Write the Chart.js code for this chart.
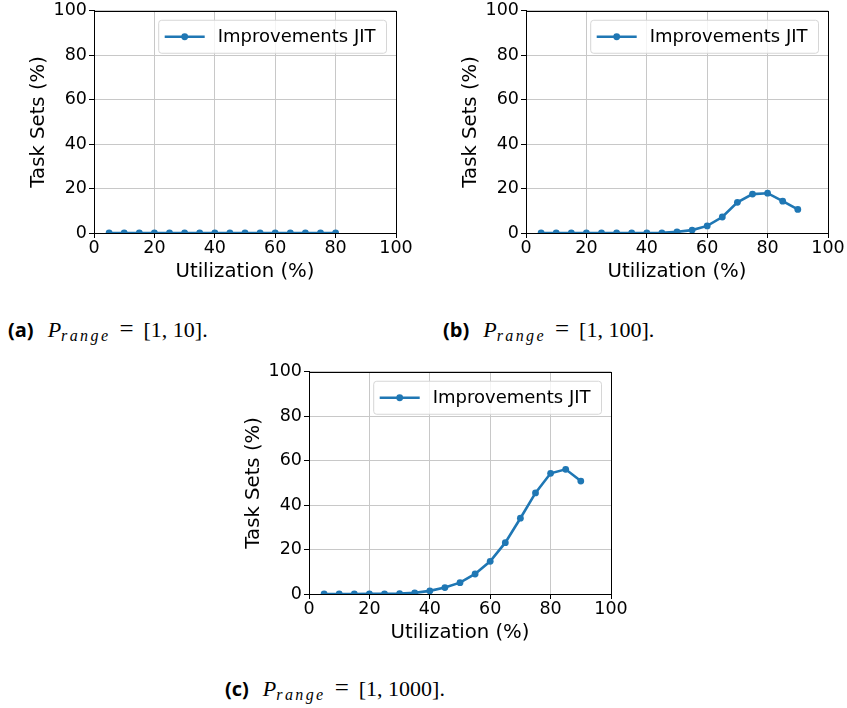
<!DOCTYPE html>
<html>
<head>
<meta charset="utf-8">
<script src="https://cdn.jsdelivr.net/npm/chart.js@4"></script>
<style>
  html, body { margin: 0; padding: 0; background: #fff; width: 847px; height: 708px; overflow: hidden; }
  .wrap { position: absolute; }
  .cap { position: absolute; white-space: nowrap; color: #000; line-height: 1; }
  .cap b { font-family: "Open Sans", sans-serif; font-weight: bold; font-size: 20px; margin-right: 14px; }
  .cap .m { font-family: "Liberation Serif", serif; font-size: 22px; }
  .cap .i { font-style: italic; }
  .cap sub { font-family: "Liberation Serif", serif; font-style: italic; font-size: 16px; letter-spacing: 2.4px; vertical-align: -4px; }
  .cap .eq { display: inline-block; margin: 0 10px 0 9px; font-size: 25px; }
</style>
</head>
<body>
<div class="wrap" style="left:0px;top:0px;width:420px;height:290px;"><canvas id="ca"></canvas></div>
<div class="wrap" style="left:432px;top:0px;width:415px;height:290px;"><canvas id="cb"></canvas></div>
<div class="wrap" style="left:215px;top:361px;width:420px;height:290px;"><canvas id="cc"></canvas></div>

<div class="cap" style="left:8px;top:316px;"><b>(a)</b><span class="m"><span class="i">P</span><sub>range</sub><span class="eq">=</span>[1, 10].</span></div>
<div class="cap" style="left:443px;top:316px;"><b>(b)</b><span class="m"><span class="i">P</span><sub>range</sub><span class="eq">=</span>[1, 100].</span></div>
<div class="cap" style="left:225px;top:675px;"><b>(c)</b><span class="m"><span class="i">P</span><sub>range</sub><span class="eq">=</span>[1, 1000].</span></div>

<script>
// ---- data ----
const seriesLabel = "Improvements JIT";
const utilA = [5, 10, 15, 20, 25, 30, 35, 40, 45, 50, 55, 60, 65, 70, 75, 80];
const valuesA = [0, 0, 0, 0, 0, 0, 0, 0, 0, 0, 0, 0, 0, 0, 0, 0];
const utilB = [5, 10, 15, 20, 25, 30, 35, 40, 45, 50, 55, 60, 65, 70, 75, 80, 85, 90];
const valuesB = [0, 0, 0, 0, 0, 0, 0, 0, 0.1, 0.5, 1.3, 3.2, 7.2, 13.8, 17.5, 17.9, 14.3, 10.6];
const utilC = [5, 10, 15, 20, 25, 30, 35, 40, 45, 50, 55, 60, 65, 70, 75, 80, 85, 90];
const valuesC = [0, 0, 0, 0.05, 0.1, 0.2, 0.5, 1.4, 2.9, 5.1, 9.0, 14.7, 23.1, 34.1, 45.5, 54.3, 56.1, 50.8];
const xTicks = [0, 20, 40, 60, 80, 100];
const yTicks = [0, 20, 40, 60, 80, 100];
const xTitle = "Utilization (%)";
const yTitle = "Task Sets (%)";

const BLUE = "#1f77b4";
const FONT = "'DejaVu Sans', sans-serif";

const framePlugin = {
  id: "frame",
  afterDraw(chart) {
    const { ctx, chartArea: a } = chart;
    ctx.save();
    ctx.strokeStyle = "#000";
    ctx.lineWidth = 1;
    ctx.strokeRect(Math.round(a.left) + 0.5, Math.round(a.top) + 0.5,
                   Math.round(a.right - a.left), Math.round(a.bottom - a.top));
    // inner legend (matplotlib style)
    const ds = chart.data.datasets[0];
    ctx.font = "18px " + FONT;
    const tw = ctx.measureText(ds.label).width;
    const h = 33;
    const w = 59 + tw + 11;
    const right = a.right - 9.5;
    const left = right - w;
    const top = a.top + 9.5;
    const r = 3;
    ctx.beginPath();
    ctx.moveTo(left + r, top);
    ctx.lineTo(right - r, top);
    ctx.arcTo(right, top, right, top + r, r);
    ctx.lineTo(right, top + h - r);
    ctx.arcTo(right, top + h, right - r, top + h, r);
    ctx.lineTo(left + r, top + h);
    ctx.arcTo(left, top + h, left, top + h - r, r);
    ctx.lineTo(left, top + r);
    ctx.arcTo(left, top, left + r, top, r);
    ctx.closePath();
    ctx.fillStyle = "rgba(255,255,255,0.8)";
    ctx.fill();
    ctx.strokeStyle = "#d6d6d6";
    ctx.lineWidth = 1;
    ctx.stroke();
    const cy = top + h / 2;
    ctx.strokeStyle = ds.borderColor;
    ctx.lineWidth = ds.borderWidth;
    ctx.beginPath();
    ctx.moveTo(left + 6, cy);
    ctx.lineTo(left + 46, cy);
    ctx.stroke();
    ctx.fillStyle = ds.borderColor;
    ctx.beginPath();
    ctx.arc(left + 26, cy, ds.pointRadius, 0, Math.PI * 2);
    ctx.fill();
    ctx.fillStyle = "#000";
    ctx.textBaseline = "middle";
    ctx.textAlign = "left";
    ctx.fillText(ds.label, left + 59, cy + 1);
    ctx.restore();
  }
};

function makeChart(id, xs, ys, rightPad) {
  const pts = xs.map((x, i) => ({ x: x, y: ys[i] }));
  return new Chart(document.getElementById(id), {
    type: "line",
    data: {
      datasets: [{
        label: seriesLabel,
        data: pts,
        borderColor: BLUE,
        backgroundColor: BLUE,
        borderWidth: 2.6,
        pointRadius: 3.4,
        pointHoverRadius: 3.4,
        pointBackgroundColor: BLUE,
        pointBorderWidth: 0,
        tension: 0,
        clip: 0
      }]
    },
    options: {
      responsive: true,
      maintainAspectRatio: false,
      animation: false,
      events: [],
      layout: { padding: { top: 10, right: rightPad, left: 0, bottom: 0 } },
      plugins: { legend: { display: false }, tooltip: { enabled: false } },
      scales: {
        x: {
          type: "linear",
          min: 0, max: 100,
          afterBuildTicks: (s) => { s.ticks = xTicks.map(v => ({ value: v })); },
          afterFit: (s) => { s.height = 57; },
          ticks: { color: "#000", font: { family: FONT, size: 17.5, lineHeight: 1.0 }, padding: 2, maxRotation: 0, autoSkip: false },
          grid: { color: "#c8c8c8", lineWidth: 1, tickColor: "#000", tickLength: 5, tickWidth: 1 },
          border: { display: true, color: "#000", width: 1 },
          title: { display: true, text: xTitle, color: "#000", font: { family: FONT, size: 19.7 }, padding: { top: 0, bottom: 6 } }
        },
        y: {
          min: 0, max: 100,
          afterBuildTicks: (s) => { s.ticks = yTicks.map(v => ({ value: v })); },
          afterFit: (s) => { s.width = 94; },
          ticks: { color: "#000", font: { family: FONT, size: 17.5, lineHeight: 1.0 }, padding: 2, autoSkip: false },
          grid: { color: "#c8c8c8", lineWidth: 1, tickColor: "#000", tickLength: 5, tickWidth: 1 },
          border: { display: true, color: "#000", width: 1 },
          title: { display: true, text: yTitle, color: "#000", font: { family: FONT, size: 19.7 }, padding: { top: 27, bottom: 0 } }
        }
      }
    },
    plugins: [framePlugin]
  });
}

makeChart("ca", utilA, valuesA, 24);
makeChart("cb", utilB, valuesB, 19);
makeChart("cc", utilC, valuesC, 24);
</script>
</body>
</html>
